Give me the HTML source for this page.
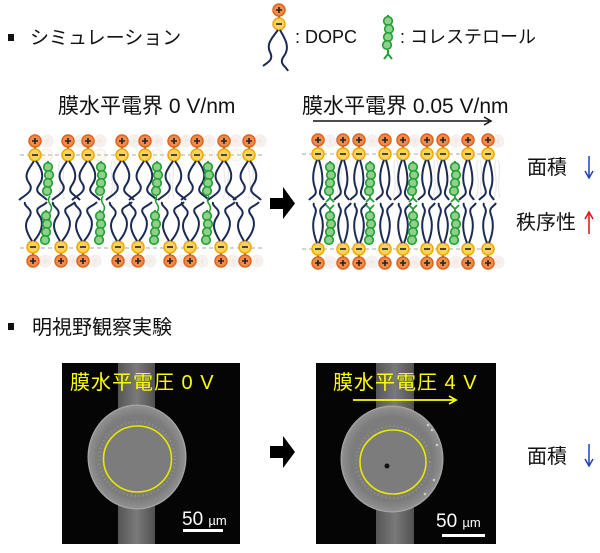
<!DOCTYPE html>
<html><head><meta charset="utf-8"><style>
html,body{margin:0;padding:0;background:#fff;}
svg{display:block;}
text{font-family:"Liberation Sans","Noto Sans CJK JP",sans-serif;}
</style></head><body>
<svg width="600" height="553" viewBox="0 0 600 553" xmlns="http://www.w3.org/2000/svg">
<defs>
  <g id="pl"><circle r="6" fill="#f08c4a" stroke="#e2621c" stroke-width="1.5"/><path d="M-3,0H3M0,-3V3" stroke="#222" stroke-width="1.6"/></g>
  <g id="mi"><circle r="6" fill="#fbd35a" stroke="#f0a800" stroke-width="1.5"/><path d="M-3,0H3" stroke="#222" stroke-width="1.6"/></g>
  <g id="plf" opacity="0.15"><circle r="6" fill="#e0a080" stroke="#999"/><path d="M-3,0H3M0,-3V3" stroke="#666"/></g>
  <g id="mif" opacity="0.15"><circle r="6" fill="#f0d890" stroke="#999"/></g>
  <g id="LT"><line x1="0" y1="-14" x2="0" y2="0" stroke="#222" stroke-width="1.5"/><use href="#pl" y="-14"/><use href="#mi"/>
    <path d="M-1,6 C-6,14 -12,20 -6,28 S-10,40 -16,45" fill="none" stroke="#1b2a55" stroke-width="2"/>
    <path d="M1,6 C7,14 10,22 4,30 S8,40 12,45" fill="none" stroke="#1b2a55" stroke-width="2"/></g>
  <g id="LB"><line x1="0" y1="14" x2="0" y2="0" stroke="#222" stroke-width="1.5"/><use href="#pl" y="14"/><use href="#mi"/>
    <path d="M-1,-6 C-6,-14 -10,-22 -4,-30 S-10,-40 -8,-45" fill="none" stroke="#1b2a55" stroke-width="2"/>
    <path d="M1,-6 C8,-14 12,-24 6,-32 S10,-40 14,-45" fill="none" stroke="#1b2a55" stroke-width="2"/></g>
  <g id="RT"><line x1="0" y1="-14" x2="0" y2="0" stroke="#222" stroke-width="1.5"/><use href="#pl" y="-14"/><use href="#mi"/>
    <path d="M-1,6 C-5,16 -6,26 -3,34 S-6,42 -9,46" fill="none" stroke="#1b2a55" stroke-width="2"/>
    <path d="M1,6 C4,16 6,26 3,34 S4,42 6,46" fill="none" stroke="#1b2a55" stroke-width="2"/></g>
  <g id="RB"><line x1="0" y1="14" x2="0" y2="0" stroke="#222" stroke-width="1.5"/><use href="#pl" y="14"/><use href="#mi"/>
    <path d="M-1,-6 C-5,-16 -6,-26 -3,-34 S-6,-42 -4,-46" fill="none" stroke="#1b2a55" stroke-width="2"/>
    <path d="M1,-6 C5,-16 6,-26 3,-34 S6,-42 8,-46" fill="none" stroke="#1b2a55" stroke-width="2"/></g>
  <g id="ch"><line x1="0" y1="-2" x2="0" y2="32" stroke="#22a033" stroke-width="2"/>
    <g fill="#8fd08a" stroke="#22a033" stroke-width="1.6"><circle cy="4" r="4.3"/><circle cx="1" cy="12" r="4.3"/><circle cy="20" r="4.3"/><circle cx="-1" cy="28" r="4.3"/></g></g>
  <g id="fl" opacity="0.18" fill="none" stroke="#888" stroke-width="1.2"><path d="M0,6 C-4,16 4,26 -2,44"/><path d="M2,6 C6,18 0,30 4,44"/></g>
  <radialGradient id="dg" cx="0.5" cy="0.5" r="0.5"><stop offset="0.8" stop-color="#7c7c7c"/><stop offset="0.97" stop-color="#8e8e8e"/><stop offset="1" stop-color="#a0a0a0"/></radialGradient>
  <linearGradient id="sg" x1="0" x2="1"><stop offset="0" stop-color="#555"/><stop offset="0.5" stop-color="#7a7a7a"/><stop offset="1" stop-color="#505050"/></linearGradient>
</defs>

<rect x="8" y="34" width="6" height="7" fill="#111"/>
<text x="30" y="44" font-size="19" fill="#111">シミュレーション</text>

<line x1="279" y1="10" x2="279" y2="24" stroke="#222" stroke-width="1.5"/>
<use href="#pl" x="279" y="10"/><use href="#mi" x="279" y="24"/>
<path d="M278,30 C272,38 266,44 270,52 S268,62 263,66" fill="none" stroke="#1b2a55" stroke-width="2"/>
<path d="M280,30 C286,40 290,48 284,56 S286,66 288,71" fill="none" stroke="#1b2a55" stroke-width="2"/>
<text x="295" y="43" font-size="18" fill="#111">: DOPC</text>
<path d="M388,50 v4 l-4,5 M388,54 l4,5" fill="none" stroke="#22a033" stroke-width="2"/>
<use href="#ch" x="388" y="17"/>
<text x="400" y="43" font-size="18" fill="#111">: コレステロール</text>

<text x="58" y="113" font-size="21" fill="#111">膜水平電界 0 V/nm</text>
<text x="302" y="113" font-size="21" fill="#111">膜水平電界 0.05 V/nm</text>
<line x1="313" y1="121" x2="489" y2="121" stroke="#111" stroke-width="1.5"/>
<path d="M484,117 L491,121 L484,125" fill="none" stroke="#111" stroke-width="1.5"/>

<line x1="20" y1="155" x2="262" y2="155" stroke="#aaa" stroke-dasharray="4,3"/>
<line x1="20" y1="248" x2="262" y2="248" stroke="#aaa" stroke-dasharray="4,3"/>
<g>
<use href="#plf" x="47" y="141"/><use href="#plf" x="80" y="141"/><use href="#plf" x="100" y="141"/><use href="#plf" x="134" y="141"/><use href="#plf" x="157" y="141"/><use href="#plf" x="186" y="141"/><use href="#plf" x="209" y="141"/><use href="#plf" x="236" y="141"/><use href="#plf" x="260" y="141"/>
<use href="#mif" x="47" y="155"/><use href="#mif" x="100" y="155"/><use href="#mif" x="157" y="155"/><use href="#mif" x="209" y="155"/><use href="#mif" x="236" y="155"/>
<use href="#plf" x="45" y="261"/><use href="#plf" x="73" y="261"/><use href="#plf" x="95" y="261"/><use href="#plf" x="130" y="261"/><use href="#plf" x="150" y="261"/><use href="#plf" x="182" y="261"/><use href="#plf" x="202" y="261"/><use href="#plf" x="233" y="261"/><use href="#plf" x="257" y="261"/>
<use href="#fl" x="60" y="155"/><use href="#fl" x="112" y="155"/><use href="#fl" x="170" y="155"/><use href="#fl" x="225" y="155"/><use href="#fl" x="250" y="155"/>
</g>
<use href="#LT" x="35" y="155"/><use href="#LT" x="68" y="155"/><use href="#LT" x="88" y="155"/><use href="#LT" x="122" y="155"/><use href="#LT" x="145" y="155"/><use href="#LT" x="174" y="155"/><use href="#LT" x="197" y="155"/><use href="#LT" x="224" y="155"/><use href="#LT" x="249" y="155"/>
<use href="#LB" x="33" y="247"/><use href="#LB" x="61" y="247"/><use href="#LB" x="83" y="247"/><use href="#LB" x="118" y="247"/><use href="#LB" x="138" y="247"/><use href="#LB" x="170" y="247"/><use href="#LB" x="190" y="247"/><use href="#LB" x="221" y="247"/><use href="#LB" x="245" y="247"/>
<g fill="none" stroke="#22a033" stroke-width="1.6">
<path d="M50,196 q-3,4 0,8 q3,4 0,8 q-3,4 0,8"/><path d="M103,196 q-3,4 0,8 q3,4 0,8 q-3,4 0,8"/><path d="M157,196 q-3,4 0,8 q3,4 0,8 q-3,4 0,8"/><path d="M209,196 q-3,4 0,8 q3,4 0,8 q-3,4 0,8"/>
</g>
<use href="#ch" x="48" y="163"/><use href="#ch" x="101" y="163"/><use href="#ch" x="157" y="163"/><use href="#ch" x="208" y="163"/>
<use href="#ch" x="46" y="212"/><use href="#ch" x="100" y="212"/><use href="#ch" x="155" y="212"/><use href="#ch" x="207" y="212"/>

<path d="M270,198 H283 V187 L295,203.5 L283,219 V209 H270 Z" fill="#000"/>

<line x1="302" y1="154" x2="498" y2="154" stroke="#aaa" stroke-dasharray="4,3"/>
<line x1="302" y1="249" x2="498" y2="249" stroke="#aaa" stroke-dasharray="4,3"/>
<g>
<use href="#plf" x="330" y="141"/><use href="#plf" x="372" y="141"/><use href="#plf" x="415" y="141"/><use href="#plf" x="456" y="141"/><use href="#plf" x="498" y="141"/>
<use href="#plf" x="330" y="262"/><use href="#plf" x="372" y="262"/><use href="#plf" x="415" y="262"/><use href="#plf" x="456" y="262"/><use href="#plf" x="498" y="262"/>
<use href="#fl" x="338" y="154"/><use href="#fl" x="395" y="154"/><use href="#fl" x="435" y="154"/><use href="#fl" x="478" y="154"/><use href="#fl" x="496" y="154"/>
</g>
<use href="#RT" x="318" y="154"/><use href="#RT" x="343" y="154"/><use href="#RT" x="359" y="154"/><use href="#RT" x="385" y="154"/><use href="#RT" x="403" y="154"/><use href="#RT" x="427" y="154"/><use href="#RT" x="443" y="154"/><use href="#RT" x="468" y="154"/><use href="#RT" x="488" y="154"/>
<use href="#RB" x="318" y="249"/><use href="#RB" x="343" y="249"/><use href="#RB" x="359" y="249"/><use href="#RB" x="385" y="249"/><use href="#RB" x="403" y="249"/><use href="#RB" x="427" y="249"/><use href="#RB" x="443" y="249"/><use href="#RB" x="468" y="249"/><use href="#RB" x="488" y="249"/>
<g fill="none" stroke="#22a033" stroke-width="1.8">
<path d="M330,193 v5 l-4,4 M330,198 l4,4"/><path d="M370,193 v5 l-4,4 M370,198 l4,4"/><path d="M413,193 v5 l-4,4 M413,198 l4,4"/><path d="M455,193 v5 l-4,4 M455,198 l4,4"/>
<path d="M330,214 v-5 l-4,-4 M330,209 l4,-4"/><path d="M370,214 v-5 l-4,-4 M370,209 l4,-4"/><path d="M413,214 v-5 l-4,-4 M413,209 l4,-4"/><path d="M455,214 v-5 l-4,-4 M455,209 l4,-4"/>
</g>
<use href="#ch" x="330" y="163"/><use href="#ch" x="370" y="163"/><use href="#ch" x="413" y="163"/><use href="#ch" x="455" y="163"/>
<use href="#ch" x="330" y="212"/><use href="#ch" x="370" y="212"/><use href="#ch" x="413" y="212"/><use href="#ch" x="455" y="212"/>

<text x="527" y="174" font-size="20" fill="#111">面積</text>
<g stroke="#2040c0" stroke-width="1.5" fill="none"><line x1="589" y1="156" x2="589" y2="178"/><path d="M585,171 L589,178 L593,171"/></g>
<text x="516" y="229" font-size="20" fill="#111">秩序性</text>
<g stroke="#e01010" stroke-width="1.5" fill="none"><line x1="589" y1="212" x2="589" y2="234"/><path d="M585,219 L589,212 L593,219"/></g>

<rect x="8" y="323" width="6" height="7" fill="#111"/>
<text x="32" y="334" font-size="20" fill="#111">明視野観察実験</text>

<rect x="62" y="363" width="178" height="181" fill="#050505"/>
<rect x="118" y="363" width="37" height="181" fill="url(#sg)"/>
<ellipse cx="137" cy="457" rx="49" ry="52" fill="url(#dg)" stroke="#a8a8a8" stroke-width="1"/>
<ellipse cx="137" cy="459" rx="38" ry="37" fill="none" stroke="#aaa" stroke-width="2" stroke-dasharray="1,3" opacity="0.5"/>
<ellipse cx="137.5" cy="459" rx="34" ry="33" fill="none" stroke="#e8e800" stroke-width="1.6"/>
<text x="70" y="389" font-size="20" fill="#ffff00" letter-spacing="1">膜水平電圧 0 V</text>
<text x="182" y="525" font-size="19" fill="#fff">50 <tspan font-size="13">µm</tspan></text>
<rect x="183" y="529" width="40" height="3" fill="#fff"/>

<path d="M270,446 H283 V436 L295,452 L283,468 V458 H270 Z" fill="#000"/>

<rect x="316" y="363" width="180" height="181" fill="#050505"/>
<rect x="376" y="363" width="38" height="181" fill="url(#sg)"/>
<ellipse cx="392" cy="459" rx="51" ry="53" fill="url(#dg)" stroke="#a8a8a8" stroke-width="1"/>
<ellipse cx="393" cy="462" rx="37" ry="36" fill="none" stroke="#aaa" stroke-width="2" stroke-dasharray="1,3" opacity="0.5"/>
<ellipse cx="393" cy="462" rx="33" ry="32" fill="none" stroke="#e8e800" stroke-width="1.6"/>
<circle cx="387" cy="466" r="2.5" fill="#111"/>
<g fill="#ccc"><circle cx="428" cy="425" r="1.3"/><circle cx="432" cy="430" r="1.3"/><circle cx="437" cy="445" r="1.3"/><circle cx="434" cy="480" r="1.3"/><circle cx="425" cy="494" r="1.3"/></g>
<text x="333" y="389" font-size="20" fill="#ffff00" letter-spacing="1">膜水平電圧 4 V</text>
<line x1="353" y1="400" x2="454" y2="400" stroke="#ffff00" stroke-width="1.8"/>
<path d="M449,396 L456,400 L449,404" fill="none" stroke="#ffff00" stroke-width="1.8"/>
<text x="436" y="527" font-size="19" fill="#fff">50 <tspan font-size="13">µm</tspan></text>
<rect x="442" y="534" width="43" height="3" fill="#fff"/>

<text x="527" y="463" font-size="20" fill="#111">面積</text>
<g stroke="#2040c0" stroke-width="1.5" fill="none"><line x1="589" y1="444" x2="589" y2="466"/><path d="M585,459 L589,466 L593,459"/></g>
</svg>
</body></html>
